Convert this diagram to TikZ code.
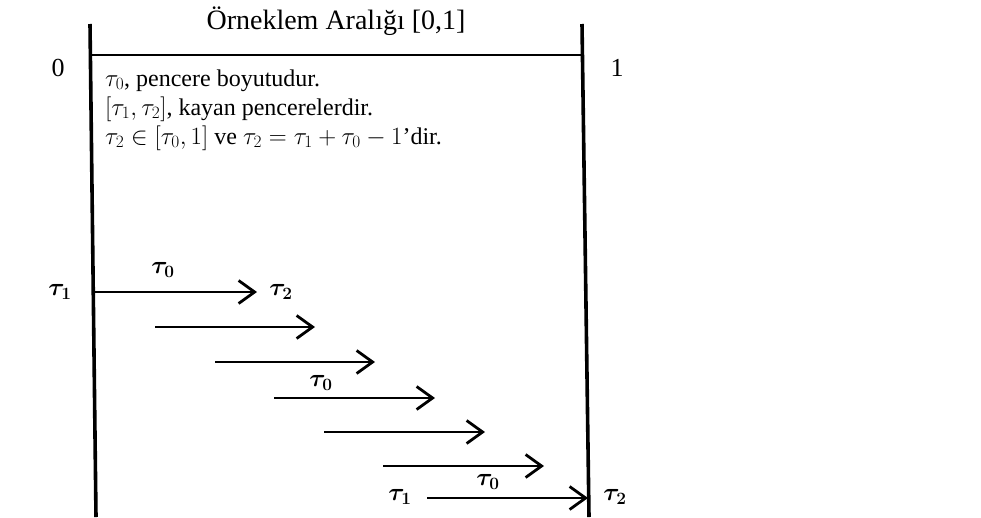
\documentclass[tikz,border=0pt]{standalone}
\usepackage{amsmath}
\usepackage{bm}
\usepackage{fontspec}
\setmainfont{Liberation Serif}
\usetikzlibrary{arrows.meta}

\begin{document}
\begin{tikzpicture}[
  x=1pt,y=-1pt,
  >={Straight Barb[length=16pt,width=23pt]},
  edge/.style={line width=3.6pt},
  rule/.style={line width=2.8pt},
  win/.style={->,line width=2.8pt},
  title/.style={font=\rmfamily\fontsize{28}{32}\selectfont,anchor=base,inner sep=0pt},
  endlbl/.style={font=\rmfamily\fontsize{26}{30}\selectfont,inner sep=0pt},
  note/.style={font=\rmfamily\fontsize{24}{30}\selectfont,anchor=base west,inner sep=0pt},
  tau/.style={font=\fontsize{27}{30}\selectfont,inner sep=0pt}
]
\useasboundingbox (0,0) rectangle (981,517);
% interval [0,1]
\coordinate (ltop) at (90,24);
\coordinate (lbot) at (96,517);
\coordinate (rtop) at (582,24);
\coordinate (rbot) at (589,517);
\coordinate (lrule) at (90,55);
\coordinate (rrule) at (582,55);
\draw[edge] (ltop) -- (lbot);
\draw[edge] (rtop) -- (rbot);
\draw[rule] (lrule) -- (rrule);
\node[title] (head) at (336,29) {Örneklem Aralığı [0,1]};
\node[endlbl] (zero) at (58,68) {0};
\node[endlbl] (one) at (617,68) {1};
% notes
\node[note] (n1) at (105,86) {$\tau_0$, pencere boyutudur.};
\node[note] (n2) at (105,115) {$[\tau_1,\tau_2]$, kayan pencerelerdir.};
\node[note] (n3) at (105,144) {$\tau_2\in[\tau_0,1]$ ve $\tau_2=\tau_1+\tau_0-1$'dir.};
% sliding windows
\coordinate (s1) at (93,292);  \coordinate (e1) at (257,292);
\coordinate (s2) at (155,327); \coordinate (e2) at (315,327);
\coordinate (s3) at (215,362); \coordinate (e3) at (375,362);
\coordinate (s4) at (274,398); \coordinate (e4) at (435,398);
\coordinate (s5) at (324,432); \coordinate (e5) at (485,432);
\coordinate (s6) at (383,466); \coordinate (e6) at (544,466);
\coordinate (s7) at (427,498); \coordinate (e7) at (588,498);
\draw[win] (s1) -- (e1);
\draw[win] (s2) -- (e2);
\draw[win] (s3) -- (e3);
\draw[win] (s4) -- (e4);
\draw[win] (s5) -- (e5);
\draw[win] (s6) -- (e6);
\draw[win] (s7) -- (e7);
% labels
\node[tau] (t1a) at (60,292) {$\bm{\tau_1}$};
\node[tau] (t0a) at (163,270) {$\bm{\tau_0}$};
\node[tau] (t2a) at (281,292) {$\bm{\tau_2}$};
\node[tau] (t0b) at (321,383) {$\bm{\tau_0}$};
\node[tau] (t0c) at (488,482) {$\bm{\tau_0}$};
\node[tau] (t1b) at (400,497) {$\bm{\tau_1}$};
\node[tau] (t2b) at (615,497) {$\bm{\tau_2}$};
\end{tikzpicture}
\end{document}
